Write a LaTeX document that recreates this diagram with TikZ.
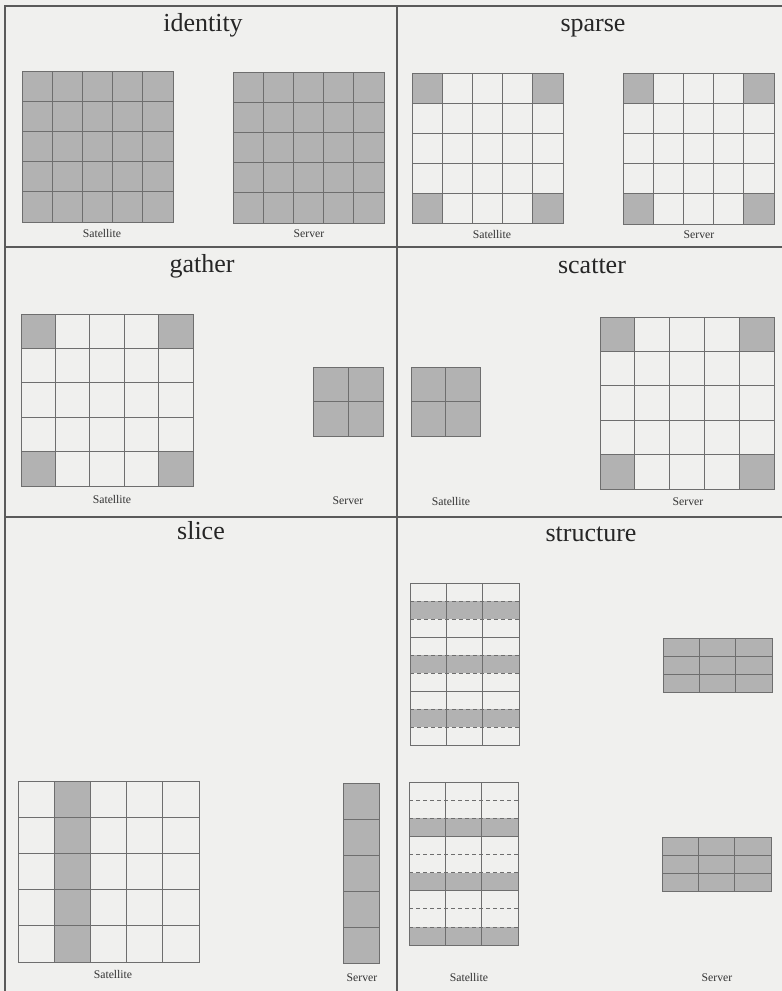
\documentclass[tikz,border=0pt]{standalone}
\usepackage{fontspec}
\setmainfont{Liberation Serif}
\definecolor{paper}{HTML}{F0F0EE}
\definecolor{shadecol}{HTML}{B2B2B2}
\definecolor{linecol}{HTML}{6E6E6E}
\definecolor{framecol}{HTML}{5A5A5A}
\tikzset{
  gridline/.style={draw=linecol, line width=0.8pt},
  dashline/.style={draw=linecol, line width=0.8pt, dash pattern=on 4pt off 3pt},
  framline/.style={draw=framecol, line width=1.2pt},
  ttl/.style={anchor=base, font=\fontsize{26}{28}\selectfont, text=black!85, inner sep=0pt},
  lbl/.style={anchor=base, font=\fontsize{11.7}{13}\selectfont, text=black!80, inner sep=0pt}
}
% grid lines: x0 y0 x1 y1 ncols nrows
\newcommand{\gridbox}[6]{%
  \pgfmathtruncatemacro\gbnc{#5-1}%
  \pgfmathtruncatemacro\gbnr{#6-1}%
  \ifnum\gbnc>0 \foreach \k in {1,...,\gbnc}{\draw[gridline] ({#1+(#3-#1)*\k/#5},#2) -- ({#1+(#3-#1)*\k/#5},#4);}\fi
  \ifnum\gbnr>0 \foreach \k in {1,...,\gbnr}{\draw[gridline] (#1,{#2+(#4-#2)*\k/#6}) -- (#3,{#2+(#4-#2)*\k/#6});}\fi
  \draw[gridline] (#1,#2) rectangle (#3,#4);
}
% shade one cell: x0 y0 x1 y1 ncols nrows col row
\newcommand{\cellshade}[8]{%
  \fill[shadecol] ({#1+(#3-#1)*(#7-1)/#5},{#2+(#4-#2)*(#8-1)/#6}) rectangle ({#1+(#3-#1)*#7/#5},{#2+(#4-#2)*#8/#6});
}
% corners of a 5x5 grid
\newcommand{\corners}[4]{%
  \cellshade{#1}{#2}{#3}{#4}{5}{5}{1}{1}\cellshade{#1}{#2}{#3}{#4}{5}{5}{5}{1}%
  \cellshade{#1}{#2}{#3}{#4}{5}{5}{1}{5}\cellshade{#1}{#2}{#3}{#4}{5}{5}{5}{5}%
  \gridbox{#1}{#2}{#3}{#4}{5}{5}%
}
% structured satellite grid: x0 y0 x1 y1, shaded row within group (1..3)
\newcommand{\structgrid}[5]{%
  \foreach \g in {0,1,2}{\pgfmathtruncatemacro\rr{3*\g+#5}\cellshade{#1}{#2}{#3}{#4}{3}{9}{1}{\rr}\cellshade{#1}{#2}{#3}{#4}{3}{9}{2}{\rr}\cellshade{#1}{#2}{#3}{#4}{3}{9}{3}{\rr}}
  \foreach \k in {1,2,4,5,7,8}{\draw[dashline] (#1,{#2+(#4-#2)*\k/9}) -- (#3,{#2+(#4-#2)*\k/9});}
  \foreach \k in {3,6}{\draw[gridline] (#1,{#2+(#4-#2)*\k/9}) -- (#3,{#2+(#4-#2)*\k/9});}
  \foreach \k in {1,2}{\draw[gridline] ({#1+(#3-#1)*\k/3},#2) -- ({#1+(#3-#1)*\k/3},#4);}
  \draw[gridline] (#1,#2) rectangle (#3,#4);
}
\begin{document}
\begin{tikzpicture}[x=1pt,y=-1pt]
\useasboundingbox (0,0) rectangle (782,991);
\fill[paper] (0,0) rectangle (782,991);
% frame
\draw[framline] (782,6) -- (5,6) -- (5,991);
\draw[framline] (397,6) -- (397,991);
\draw[framline] (5,247) -- (782,247);
\draw[framline] (5,517) -- (782,517);

% ---- identity
\fill[shadecol] (22,71) rectangle (173,222);
\gridbox{22}{71}{173}{222}{5}{5}
\fill[shadecol] (233,72) rectangle (384,223);
\gridbox{233}{72}{384}{223}{5}{5}
\node[ttl] (tid) at (203,31) {identity};
\node[lbl] (id-sat) at (102,237) {Satellite};
\node[lbl] (id-srv) at (309,237) {Server};

% ---- sparse
\corners{412}{73}{563}{223}
\corners{623}{73}{774}{224}
\node[ttl] (tsp) at (593,31) {sparse};
\node[lbl] (sp-sat) at (492,238) {Satellite};
\node[lbl] (sp-srv) at (699,238) {Server};

% ---- gather
\corners{21}{314}{193}{486}
\fill[shadecol] (313,367) rectangle (383,436);
\gridbox{313}{367}{383}{436}{2}{2}
\node[ttl] (tga) at (202,272) {gather};
\node[lbl] (ga-sat) at (112,503) {Satellite};
\node[lbl] (ga-srv) at (348,504) {Server};

% ---- scatter
\fill[shadecol] (411,367) rectangle (480,436);
\gridbox{411}{367}{480}{436}{2}{2}
\corners{600}{317}{774}{489}
\node[ttl] (tsc) at (592,273) {scatter};
\node[lbl] (sc-sat) at (451,505) {Satellite};
\node[lbl] (sc-srv) at (688,505) {Server};

% ---- slice
\fill[shadecol] ({18+181/5},781) rectangle ({18+2*181/5},962);
\gridbox{18}{781}{199}{962}{5}{5}
\fill[shadecol] (343,783) rectangle (379,963);
\gridbox{343}{783}{379}{963}{1}{5}
\node[ttl] (tsl) at (201,539) {slice};
\node[lbl] (sl-sat) at (113,978) {Satellite};
\node[lbl] (sl-srv) at (362,981) {Server};

% ---- structure
\structgrid{410}{583}{519}{745}{2}
\structgrid{409}{782}{518}{945}{3}
\fill[shadecol] (663,638) rectangle (772,692);
\gridbox{663}{638}{772}{692}{3}{3}
\fill[shadecol] (662,837) rectangle (771,891);
\gridbox{662}{837}{771}{891}{3}{3}
\node[ttl] (tst) at (591,541) {structure};
\node[lbl] (st-sat) at (469,981) {Satellite};
\node[lbl] (st-srv) at (717,981) {Server};
\end{tikzpicture}
\end{document}
